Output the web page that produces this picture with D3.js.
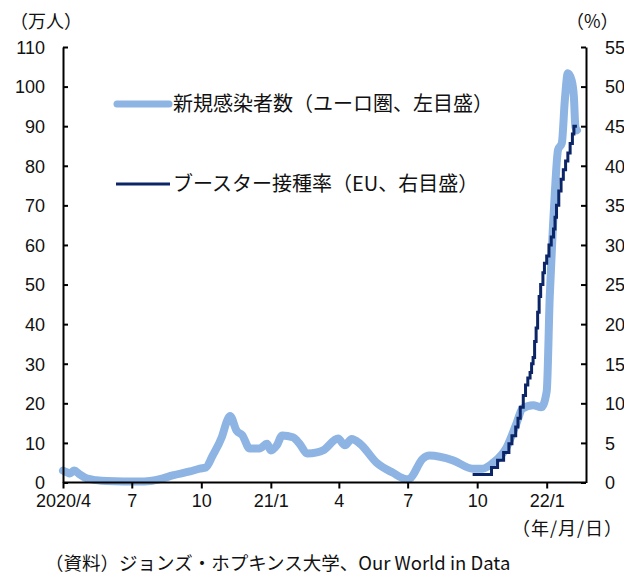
<!DOCTYPE html>
<html>
<head>
<meta charset="utf-8">
<script src="https://cdn.jsdelivr.net/npm/d3@7"></script>
<style>
  html, body { margin: 0; padding: 0; background: #fff; }
  svg { display: block; }
  .jp { font-family: "Noto Sans CJK JP", "Noto Sans", sans-serif; }
  .num { font-family: "Liberation Sans", Arial, sans-serif; }
</style>
</head>
<body>
<svg id="chart" width="624" height="576"></svg>
<script>
// New cases in the euro area (10k persons, left axis)
const caseDates = [
  "2020-04-01","2020-04-06","2020-04-10","2020-04-16","2020-04-22","2020-05-03","2020-05-15",
  "2020-05-29","2020-06-20","2020-07-10","2020-07-25","2020-08-10","2020-08-24","2020-09-16",
  "2020-09-29","2020-10-07","2020-10-16","2020-10-28","2020-11-05","2020-11-08","2020-11-17",
  "2020-11-24","2020-12-04","2020-12-17","2020-12-27","2021-01-01","2021-01-09","2021-01-16",
  "2021-01-30","2021-02-08","2021-02-18","2021-03-03","2021-03-11","2021-03-31","2021-04-09",
  "2021-04-18","2021-04-29","2021-05-21","2021-06-11","2021-06-30","2021-07-04","2021-07-21",
  "2021-07-30","2021-08-30","2021-09-25","2021-10-08","2021-10-22","2021-11-09","2021-11-22",
  "2021-11-30","2021-12-14","2021-12-25","2022-01-01","2022-01-05","2022-01-09","2022-01-12",
  "2022-01-16","2022-01-21","2022-01-25","2022-01-29","2022-02-03","2022-02-06","2022-02-08",
  "2022-02-10"
];
const caseValues = [
  3.0, 2.6, 2.3, 3.0, 2.2, 1.0, 0.6,
  0.35, 0.25, 0.25, 0.4, 1.0, 1.8, 2.8,
  3.5, 3.8, 6.8, 11.4, 16.0, 16.8, 13.0,
  12.0, 8.6, 8.6, 9.8, 8.1, 9.4, 11.9,
  11.4, 9.8, 7.3, 7.6, 8.1, 11.1, 9.4,
  11.0, 9.8, 5.0, 2.5, 0.8, 1.0, 6.0,
  6.8, 5.6, 3.5, 3.5, 5.0, 8.9, 14.9,
  18.7, 19.5, 19.0, 23.0, 46.8, 63.7, 74.0,
  84.0, 85.7, 96.6, 103.4, 101.6, 97.3, 89.8,
  89.0
];

// Booster vaccination rate in the EU (%, right axis)
const boosterDates = [
  "2021-09-25","2021-10-20","2021-10-28","2021-11-05","2021-11-12","2021-11-16","2021-11-21",
  "2021-11-24","2021-11-27","2021-12-01","2021-12-04","2021-12-07","2021-12-10","2021-12-12",
  "2021-12-14","2021-12-16","2021-12-18","2021-12-20","2021-12-22","2021-12-24","2021-12-27",
  "2021-12-29","2022-01-01","2022-01-04","2022-01-07","2022-01-10","2022-01-12","2022-01-14",
  "2022-01-17","2022-01-20","2022-01-23","2022-01-26","2022-01-29","2022-02-01","2022-02-04",
  "2022-02-06","2022-02-10"
];
const boosterValues = [
  1.0, 1.9, 2.8, 3.8, 4.9, 5.9, 7.0,
  8.1, 9.5, 11.0, 12.3, 13.2, 13.9, 15.0,
  15.8, 17.8, 19.5, 21.5, 23.5, 25.0, 26.5,
  27.7, 28.6, 30.0, 31.0, 32.0, 33.5, 35.0,
  36.8, 38.3, 39.5, 40.6, 41.6, 42.8, 44.0,
  45.0, 45.0
];

// Axis ticks
const leftTicks = d3.range(0, 111, 10);
const rightTicks = d3.range(0, 56, 5);
const xTickDates = ["2020-04-01","2020-07-01","2020-10-01","2021-01-01","2021-04-01","2021-07-01","2021-10-01","2022-01-01"];
const xTickLabels = ["2020/4","7","10","21/1","4","7","10","22/1"];

const seriesNames = ["新規感染者数（ユーロ圏、左目盛）", "ブースター接種率（EU、右目盛）"];
const colors = ["#8db4e2", "#0b2566"];

const parse = d3.timeParse("%Y-%m-%d");
const cases = caseDates.map((d, i) => ({ date: parse(d), value: caseValues[i] }));
const booster = boosterDates.map((d, i) => ({ date: parse(d), value: boosterValues[i] }));

const svg = d3.select("#chart");
const plot = { left: 63, right: 586, top: 47, bottom: 482.5 };

const x = d3.scaleTime()
  .domain([parse("2020-04-01"), parse("2022-02-22")])
  .range([plot.left, plot.right]);
const yL = d3.scaleLinear().domain([0, 110]).range([plot.bottom, plot.top]);
const yR = d3.scaleLinear().domain([0, 55]).range([plot.bottom, plot.top]);

// Data lines
svg.append("path")
  .datum(cases)
  .attr("fill", "none")
  .attr("stroke", colors[0])
  .attr("stroke-width", 8)
  .attr("stroke-linejoin", "round")
  .attr("stroke-linecap", "round")
  .attr("d", d3.line().x(d => x(d.date)).y(d => yL(d.value)).curve(d3.curveMonotoneX));

svg.append("path")
  .datum(booster)
  .attr("fill", "none")
  .attr("stroke", colors[1])
  .attr("stroke-width", 3)
  .attr("d", d3.line().x(d => x(d.date)).y(d => yR(d.value)).curve(d3.curveStepAfter));

// Axes
function styleAxis(g) {
  g.selectAll(".domain").attr("stroke", "#000").attr("stroke-width", 2);
  g.selectAll(".tick line").attr("stroke", "#000").attr("stroke-width", 2);
  g.selectAll(".tick text")
    .attr("class", "num")
    .attr("font-size", 18)
    .attr("fill", "#111");
}

const gL = svg.append("g")
  .attr("transform", `translate(${plot.left},0)`)
  .call(d3.axisLeft(yL).tickValues(leftTicks).tickSizeInner(-5).tickSizeOuter(0).tickPadding(18))
  .call(styleAxis);
gL.selectAll(".tick text").attr("dy", "0.35em");

const gR = svg.append("g")
  .attr("transform", `translate(${plot.right},0)`)
  .call(d3.axisRight(yR).tickValues(rightTicks).tickSizeInner(-5).tickSizeOuter(0).tickPadding(19))
  .call(styleAxis);
gR.selectAll(".tick text").attr("dy", "0.35em");

const gX = svg.append("g")
  .attr("transform", `translate(0,${plot.bottom})`)
  .call(d3.axisBottom(x)
    .tickValues(xTickDates.map(parse))
    .tickFormat((d, i) => xTickLabels[i])
    .tickSizeInner(6).tickSizeOuter(0).tickPadding(6))
  .call(styleAxis);
gX.select(".domain").attr("d", `M${plot.left},0H${plot.right}`);

// Unit labels
svg.append("text").attr("class", "jp").attr("x", 10).attr("y", 28)
  .attr("font-size", 18).attr("fill", "#111").text("（万人）");
svg.append("text").attr("class", "jp").attr("x", 566).attr("y", 28)
  .attr("font-size", 18).attr("fill", "#111").text("（%）");
svg.append("text").attr("class", "jp").attr("x", 512).attr("y", 535)
  .attr("font-size", 18).attr("letter-spacing", 1).attr("fill", "#111").text("（年/月/日）");

// Legend
const legend = svg.append("g");
const legendRows = [
  { y: 104, width: 7, x1: 117, x2: 169 },
  { y: 184, width: 3, x1: 116, x2: 170 }
];
legendRows.forEach((r, i) => {
  legend.append("line")
    .attr("x1", r.x1).attr("x2", r.x2).attr("y1", r.y).attr("y2", r.y)
    .attr("stroke", colors[i]).attr("stroke-width", r.width)
    .attr("stroke-linecap", i === 0 ? "round" : "butt");
  legend.append("text").attr("class", "jp")
    .attr("x", 173).attr("y", r.y).attr("dy", "0.36em")
    .attr("font-size", 20).attr("fill", "#111")
    .text(seriesNames[i]);
});

// Source note
svg.append("text").attr("class", "jp").attr("x", 45).attr("y", 570)
  .attr("font-size", 18.5).attr("fill", "#111")
  .text("（資料）ジョンズ・ホプキンス大学、Our World in Data");
</script>
</body>
</html>
